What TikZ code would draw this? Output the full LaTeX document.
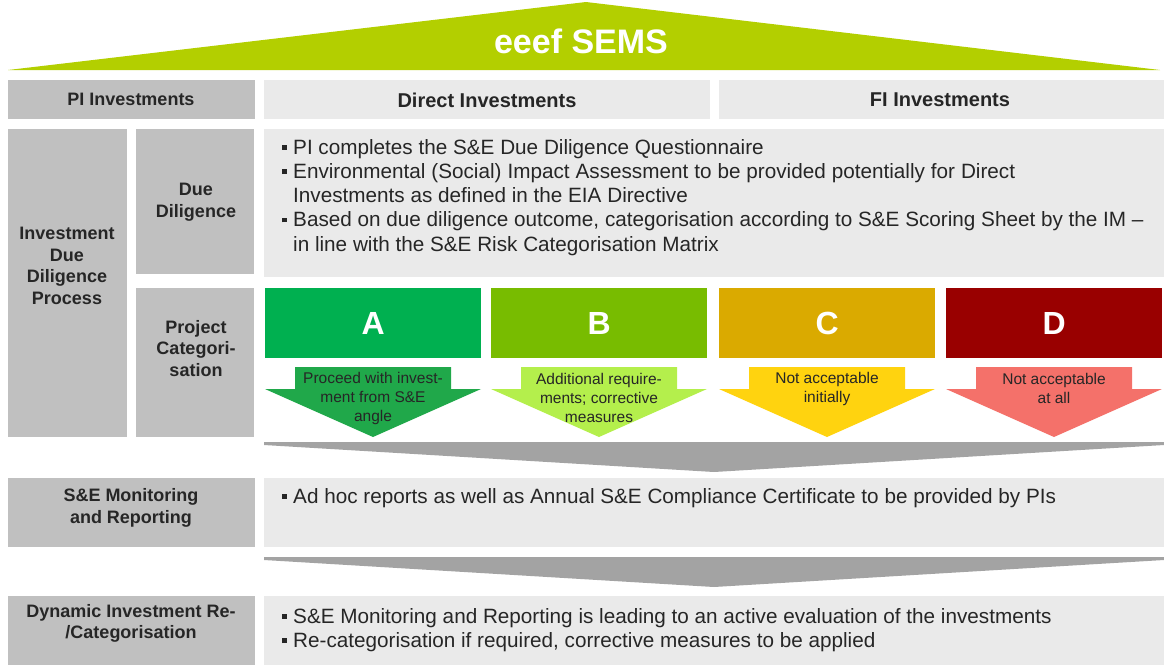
\documentclass[tikz,border=0pt]{standalone}
\usepackage{fontspec}
\setmainfont{Liberation Sans}
\definecolor{lime}{HTML}{B3CF00}
\definecolor{labgray}{HTML}{C0C0C0}
\definecolor{panegray}{HTML}{EAEAEA}
\definecolor{chevgray}{HTML}{A3A3A3}
\definecolor{ink}{HTML}{262626}
\definecolor{catA}{HTML}{00B050}
\definecolor{catB}{HTML}{78BC00}
\definecolor{catC}{HTML}{DAAA00}
\definecolor{catD}{HTML}{990000}
\definecolor{arrA}{HTML}{20A84A}
\definecolor{arrB}{HTML}{B4EF4C}
\definecolor{arrC}{HTML}{FFD30F}
\definecolor{arrD}{HTML}{F4716A}
\newcommand\setfs[2]{\fontsize{#1}{#2}\selectfont}
\newcommand\sqb{\makebox[11pt][l]{\raisebox{4.5pt}{\rule{4.8pt}{4.8pt}}}}
\newcommand\ind{\hspace*{11pt}}
\begin{document}
\begin{tikzpicture}[x=1pt,y=-1pt,
  labbox/.style={fill=labgray, inner sep=0, anchor=north west},
  pane/.style={fill=panegray, inner sep=0, anchor=north west},
  labtext/.style={inner sep=0, align=center, text=ink, font=\bfseries\setfs{18}{21.7}},
  headtext/.style={inner sep=0, text=ink, font=\bfseries\setfs{20}{24}},
  bodytext/.style={inner sep=0, anchor=north west, align=left, text=ink, font=\setfs{20.7}{24.2}},
  catbox/.style={inner sep=0, anchor=north west, minimum width=216pt, minimum height=70pt,
                 text=white, font=\bfseries\setfs{32}{36}},
  arrtext/.style={inner sep=0, align=center, text=ink, font=\setfs{15.5}{19}},
  chevron/.style={fill=chevgray}
]
\useasboundingbox (0,0) rectangle (1164,665);

% roof
\fill[lime] (586,2) -- (1160,70) -- (8,70) -- cycle;
\node[text=white, font=\bfseries\setfs{34}{40}, inner sep=0] (sems) at (581,41) {eeef SEMS};

% header row
\node[labbox, minimum width=247pt, minimum height=39pt] (pibox) at (8,80) {};
\node[headtext, font=\bfseries\setfs{18}{22}] (pi) at (131,99.5) {PI Investments};
\node[pane, minimum width=446pt, minimum height=39pt] (directbox) at (264,80) {};
\node[headtext] (direct) at (487,100) {Direct Investments};
\node[pane, minimum width=445pt, minimum height=39pt] (fibox) at (719,80) {};
\node[headtext] (fi) at (940,100) {FI Investments};

% investment due diligence process
\node[labbox, minimum width=119pt, minimum height=308pt] (iddpbox) at (8,129) {};
\node[labtext] (iddp) at (67,266) {Investment\\Due\\Diligence\\Process};
\node[labbox, minimum width=118pt, minimum height=145pt] (ddbox) at (136,129) {};
\node[labtext] (dd) at (196,202) {Due\\Diligence};
\node[labbox, minimum width=118pt, minimum height=149pt] (pcbox) at (136,288) {};
\node[labtext] (pc) at (196,348.5) {Project\\Categori-\\sation};

% due diligence content
\node[pane, minimum width=900pt, minimum height=148pt] (ddpane) at (264,129) {};
\node[bodytext] (ddtext) at (282,137.2) {%
\strut\sqb PI completes the S\&E Due Diligence Questionnaire\\
\strut\sqb\makebox[722pt][s]{Environmental (Social) Impact Assessment to be provided potentially for Direct}\\
\strut\ind Investments as defined in the EIA Directive\\
\strut\sqb Based on due diligence outcome, categorisation according to S\&E Scoring Sheet by the IM --\\
\strut\ind in line with the S\&E Risk Categorisation Matrix};

% categories
\node[catbox, fill=catA] (A) at (265,288) {A};
\node[catbox, fill=catB] (B) at (491,288) {B};
\node[catbox, fill=catC] (C) at (719,288) {C};
\node[catbox, fill=catD] (D) at (946,288) {D};

% consequence arrows
\foreach \cx/\col in {373/arrA, 599/arrB, 827/arrC, 1054/arrD}{
  \fill[\col] ({\cx-78},367) -- ({\cx+78},367) -- ({\cx+78},389) -- ({\cx+108},389)
     -- (\cx,437) -- ({\cx-108},389) -- ({\cx-78},389) -- cycle;
}
\node[arrtext] (aA) at (373,398) {Proceed with invest-\\ment from S\&E\\angle};
\node[arrtext] (aB) at (599,398) {Additional require-\\ments; corrective\\measures};
\node[arrtext] (aC) at (827,388.5) {Not acceptable\\initially};
\node[arrtext] (aD) at (1054,388.5) {Not acceptable\\at all};

% flow chevrons
\fill[chevron] (264,442) -- (1164,442) -- (1164,445) -- (714,472) -- (264,445) -- cycle;
\fill[chevron] (264,557) -- (1164,557) -- (1164,560) -- (714,587) -- (264,560) -- cycle;

% monitoring and reporting
\node[labbox, minimum width=247pt, minimum height=69pt] (mrbox) at (8,478) {};
\node[labtext] (mr) at (131,508) {S\&E Monitoring\\and Reporting};
\node[pane, minimum width=900pt, minimum height=69pt] (mrpane) at (264,478) {};
\node[bodytext] (mrtext) at (282,486.2) {%
\strut\sqb Ad hoc reports as well as Annual S\&E Compliance Certificate to be provided by PIs};

% dynamic re-categorisation
\node[labbox, minimum width=247pt, minimum height=69pt] (dynbox) at (8,596) {};
\node[labtext] (dyn) at (131,623.5) {Dynamic Investment Re-\\/Categorisation};
\node[pane, minimum width=900pt, minimum height=69pt] (dynpane) at (264,596) {};
\node[bodytext] (dyntext) at (282,606.2) {%
\strut\sqb S\&E Monitoring and Reporting is leading to an active evaluation of the investments\\
\strut\sqb Re-categorisation if required, corrective measures to be applied};
\end{tikzpicture}
\end{document}
